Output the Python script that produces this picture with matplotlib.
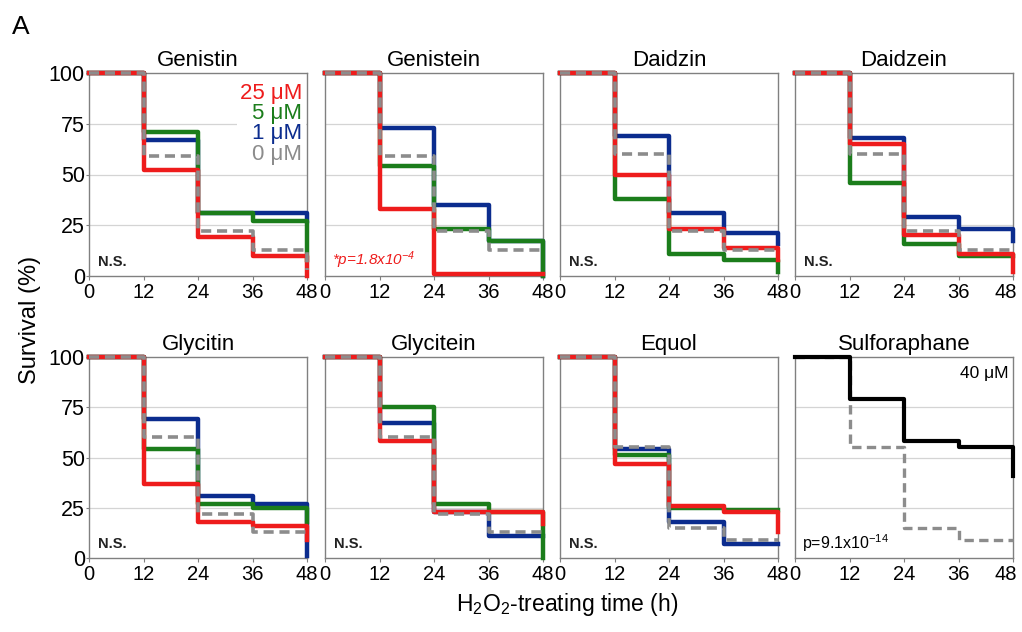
import numpy as np
import matplotlib
matplotlib.use('Agg')
import matplotlib.pyplot as plt
import matplotlib.patches as mpatches
import matplotlib.transforms as mtransforms

plt.rcParams['font.family'] = ['Liberation Sans', 'DejaVu Sans']
plt.rcParams['mathtext.default'] = 'regular'

# time points (h); last value is the drop at the end of the study
times = [0, 12, 24, 36, 48]
xticks = [0, 12, 24, 36, 48]
yticks = [0, 25, 50, 75, 100]

doses = ['25 \u03bcM', '5 \u03bcM', '1 \u03bcM', '0 \u03bcM']

genistin = {'25': [100, 52, 19, 10, 0], '5': [100, 71, 31, 27, 8],
            '1': [100, 67, 31, 31, 27], '0': [100, 59, 22, 13, 3]}
genistein = {'25': [100, 33, 1, 1, 1], '5': [100, 54, 23, 17, 0],
             '1': [100, 73, 35, 17, 0], '0': [100, 59, 22, 13, 13]}
daidzin = {'25': [100, 50, 23, 14, 8], '5': [100, 38, 11, 8, 2],
           '1': [100, 69, 31, 21, 16], '0': [100, 60, 22, 13, 13]}
daidzein = {'25': [100, 65, 20, 11, 2], '5': [100, 46, 16, 10, 10],
            '1': [100, 68, 29, 23, 17], '0': [100, 60, 22, 13, 13]}
glycitin = {'25': [100, 37, 18, 16, 9], '5': [100, 54, 27, 25, 18],
            '1': [100, 69, 31, 27, 1], '0': [100, 60, 22, 13, 13]}
glycitein = {'25': [100, 58, 23, 23, 17], '5': [100, 75, 27, 23, 0],
             '1': [100, 67, 23, 11, 11], '0': [100, 60, 22, 13, 13]}
equol = {'25': [100, 47, 26, 23, 13], '5': [100, 51, 25, 24, 24],
         '1': [100, 54, 18, 7, 7], '0': [100, 55, 15, 9, 9]}
sulfo_40 = [100, 79, 58, 55, 41]
sulfo_0 = [100, 55, 15, 9, 9]

compounds = ['Genistin', 'Genistein', 'Daidzin', 'Daidzein',
             'Glycitin', 'Glycitein', 'Equol']
data = [genistin, genistein, daidzin, daidzein, glycitin, glycitein, equol]

col = {'25': '#ee1c1c', '5': '#1b7d1b', '1': '#0b2c8e', '0': '#8c8c8c'}

fig = plt.figure(figsize=(10.22, 6.32), dpi=100)

lefts = [89, 325, 560, 795]
axs = []
for r in range(2):
    for c in range(4):
        if r == 0:
            b = 1 - 276 / 632.
            h = 203 / 632.
        else:
            b = 1 - 558 / 632.
            h = 201 / 632.
        ax = fig.add_axes([lefts[c] / 1022., b, 218 / 1022., h])
        axs.append(ax)

for i, ax in enumerate(axs):
    ax.set_xlim(0, 48)
    ax.set_ylim(0, 100)
    ax.set_xticks(xticks)
    ax.set_yticks(yticks)
    for y in [25, 50, 75]:
        ax.axhline(y, color='#d4d4d4', lw=0.9, zorder=0)
    for s in ax.spines.values():
        s.set_color('#808080')
        s.set_linewidth(1.0)
    ax.tick_params(axis='x', labelsize=14.5, color='#808080', length=3,
                   pad=2)
    ax.tick_params(axis='y', labelsize=15.5, color='#808080', length=2,
                   pad=1)
    if i % 4 != 0:
        ax.set_yticklabels([])
        ax.tick_params(axis='y', length=0)
    if i % 4 == 3:
        # keep the last "48" inside the figure
        lab = ax.get_xticklabels()[-1]
        off = mtransforms.ScaledTranslation(-5 / 72., 0, fig.dpi_scale_trans)
        lab.set_transform(lab.get_transform() + off)

    if i < 7:
        d = data[i]
        ax.set_title(compounds[i], fontsize=16, pad=5)
        for k in ['1', '5', '25']:
            ax.step(times, d[k], where='post', color=col[k], lw=3.2,
                    clip_on=False, zorder=3)
        ax.step(times, d['0'], where='post', color=col['0'], lw=2.6,
                dashes=(2.8, 1.6), clip_on=False, zorder=4)
    else:
        ax.set_title('Sulforaphane', fontsize=16, pad=5)
        ax.step(times, sulfo_0, where='post', color=col['0'], lw=2.4,
                dashes=(2.8, 1.6), clip_on=False, zorder=3)
        ax.step(times, sulfo_40, where='post', color='black', lw=3.0,
                clip_on=False, zorder=4)
        ax.text(0.98, 0.92, '40 \u03bcM', transform=ax.transAxes,
                ha='right', va='center', fontsize=12.5)
        ax.text(0.03, 0.075, 'p=9.1x10$^{-14}$', transform=ax.transAxes,
                ha='left', va='center', fontsize=11.5)

    if i not in (1, 7):
        ax.text(0.04, 0.07, 'N.S.', transform=ax.transAxes, ha='left',
                va='center', fontsize=10.5, fontweight='bold', color='#222222')

axs[1].text(0.03, 0.08, '*p=1.8x10$^{-4}$', transform=axs[1].transAxes,
            ha='left', va='center', fontsize=11, color='#ee1c1c',
            style='italic')

# dose legend in the first panel
ax = axs[0]
ax.add_patch(mpatches.Rectangle((0.68, 0.54), 0.315, 0.42,
                                transform=ax.transAxes, facecolor='white',
                                edgecolor='none', zorder=1))
for j, k in enumerate(['25', '5', '1', '0']):
    ax.text(0.977, 0.90 - 0.10 * j, doses[j], transform=ax.transAxes,
            ha='right', va='center', fontsize=16, color=col[k], zorder=5)

fig.text(12 / 1022., 1 - 27 / 632., 'A', fontsize=19, ha='left', va='center')
fig.text(30 / 1022., 1 - 320 / 632., 'Survival (%)', rotation=90,
         fontsize=17, ha='center', va='center')
fig.text(567 / 1022., 1 - 605 / 632., 'H$_2$O$_2$-treating time (h)',
         fontsize=16.5, ha='center', va='center')

plt.savefig('out.png', dpi=100)
